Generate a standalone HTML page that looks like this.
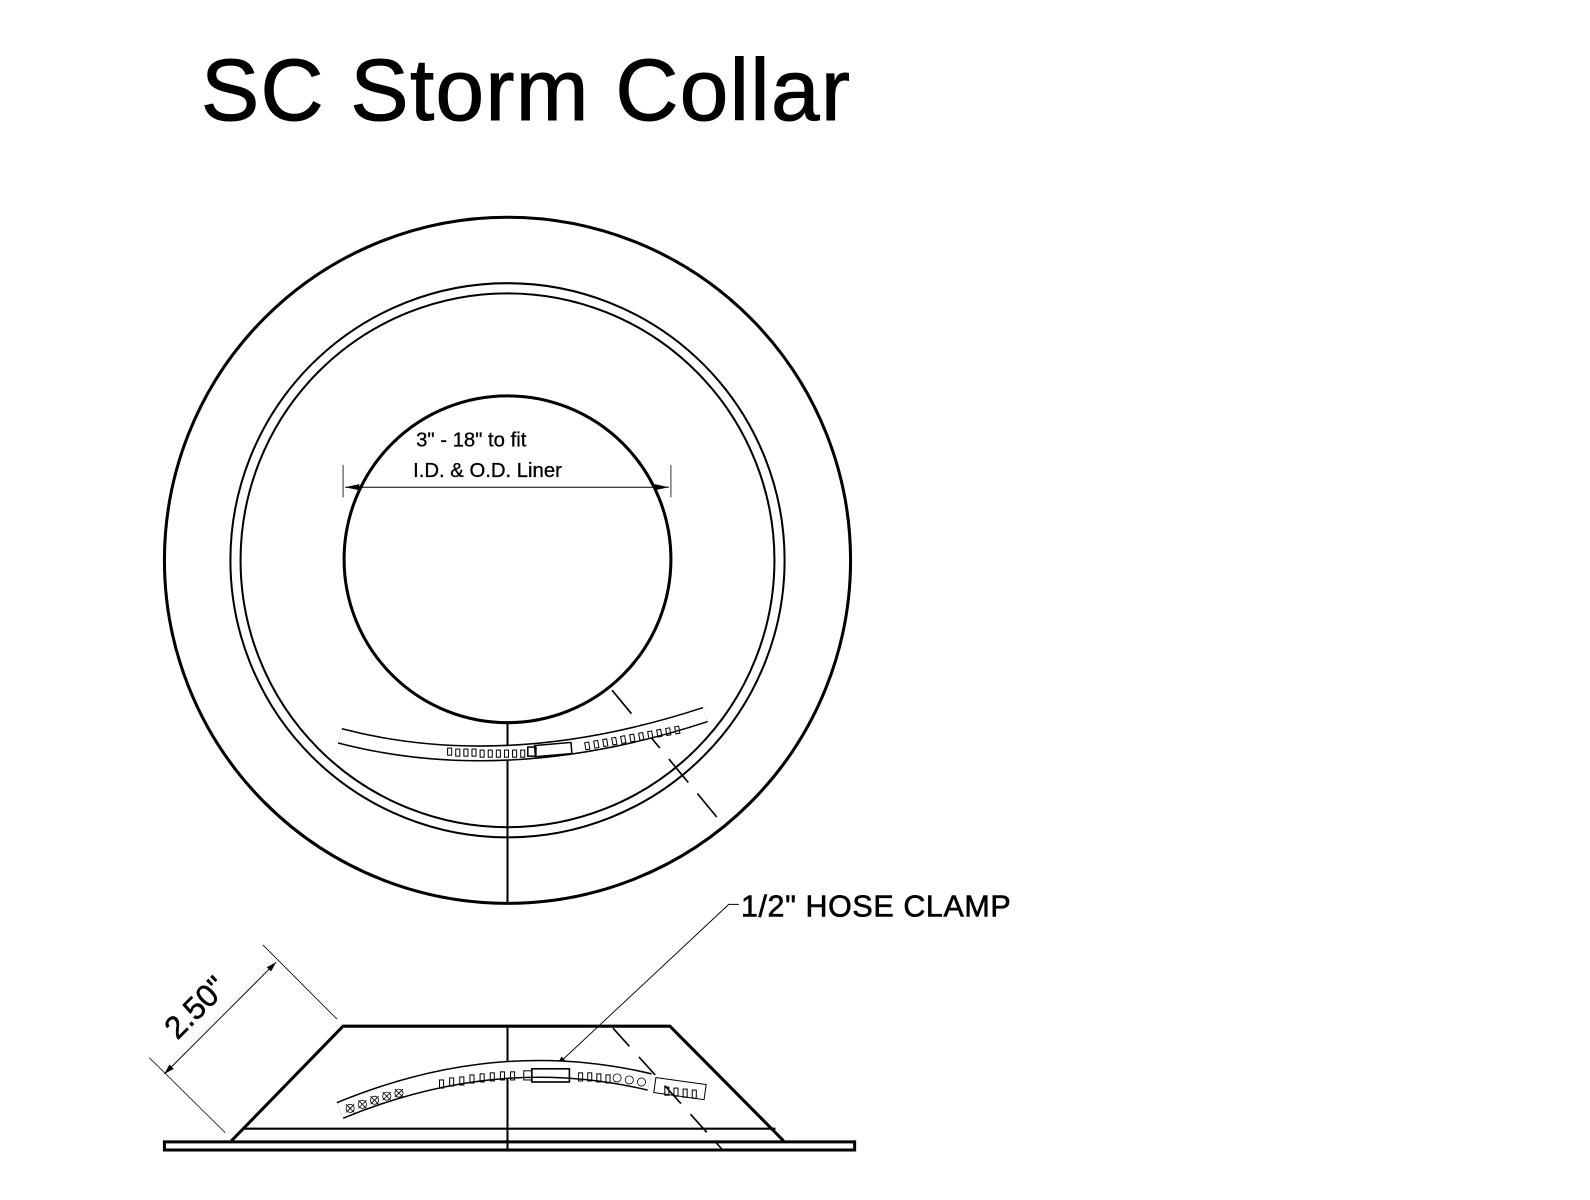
<!DOCTYPE html>
<html><head><meta charset="utf-8"><style>html,body{margin:0;padding:0;background:#fff}svg{display:block}</style></head>
<body>
<svg width="1590" height="1200" viewBox="0 0 1590 1200" xmlns="http://www.w3.org/2000/svg" font-family="Liberation Sans, Arial, sans-serif">
<defs>
<marker id="ar" viewBox="0 0 10 6" refX="10" refY="3" markerWidth="14" markerHeight="6" markerUnits="userSpaceOnUse" orient="auto"><path d="M0,0 L10,3 L0,6 z" fill="#000"/></marker>
</defs>
<g transform="scale(1.015)">
<text x="198" y="118" font-size="86" fill="#000" stroke="#000" stroke-width="1" letter-spacing="1.3">SC Storm Collar</text>

<!-- top view -->
<g fill="none" stroke="#000">
<circle cx="500" cy="552" r="338" stroke-width="3"/>
<circle cx="500" cy="552" r="273" stroke-width="2"/>
<circle cx="500" cy="552" r="263" stroke-width="2"/>
<circle cx="500" cy="551" r="161" stroke-width="3"/>
<line x1="500" y1="712" x2="500" y2="890" stroke-width="2"/>
<line x1="603" y1="680" x2="712" y2="812" stroke-width="1.6" stroke-dasharray="30,14"/>
<line x1="338" y1="458" x2="338" y2="490" stroke-width="0.8"/>
<line x1="661" y1="458" x2="661" y2="490" stroke-width="0.8"/>
<line x1="340" y1="480" x2="659" y2="480" stroke-width="1"/>
</g>
<path d="M340,480 l14,-3 v6 z M659,480 l-14,-3 v6 z" fill="#000"/>
<text x="410" y="440" font-size="20" stroke="#000" stroke-width="0.3">3" - 18" to fit</text>
<text x="407" y="470" font-size="20" stroke="#000" stroke-width="0.3">I.D. &amp; O.D. Liner</text>

<!-- top clamp -->
<path d="M335,725 Q500,768 695,704" fill="none" stroke="#000" stroke-width="16"/>
<path d="M335,725 Q500,768 695,704" fill="none" stroke="#fff" stroke-width="13"/>
<g fill="none" stroke="#000" stroke-width="1">
<rect x="527" y="733" width="36" height="11" transform="rotate(-5 545 738)" stroke-width="1.5"/>
<rect x="520" y="736" width="8" height="9" stroke-width="1.5"/>
<g><rect x="441" y="737" width="4" height="7"/><rect x="449" y="738" width="4" height="7"/><rect x="457" y="738" width="4" height="7"/><rect x="465" y="738" width="4" height="7"/><rect x="473" y="739" width="4" height="7"/><rect x="481" y="739" width="4" height="7"/><rect x="489" y="739" width="4" height="7"/><rect x="497" y="739" width="4" height="7"/><rect x="505" y="739" width="4" height="7"/><rect x="513" y="739" width="4" height="7"/></g>
<g transform="rotate(-10 620 722)"><rect x="575" y="724" width="4" height="7"/><rect x="584" y="724" width="4" height="7"/><rect x="593" y="724" width="4" height="7"/><rect x="602" y="724" width="4" height="7"/><rect x="611" y="724" width="4" height="7"/><rect x="620" y="724" width="4" height="7"/><rect x="629" y="724" width="4" height="7"/><rect x="638" y="724" width="4" height="7"/><rect x="647" y="724" width="4" height="7"/><rect x="656" y="724" width="4" height="7"/><rect x="665" y="724" width="4" height="7"/></g>
</g>

<!-- side view -->
<g fill="none" stroke="#000">
<rect x="162" y="1125" width="680" height="8" stroke-width="3"/>
<path d="M228,1124 L338,1011 L660,1011 L772,1124" stroke-width="3"/>
<line x1="240" y1="1112" x2="764" y2="1112" stroke-width="2"/>
<line x1="500" y1="1011" x2="500" y2="1133" stroke-width="2"/>
<line x1="604" y1="1013" x2="712" y2="1133" stroke-width="1.6" stroke-dasharray="24,14"/>
<line x1="332" y1="1004" x2="259" y2="931" stroke-width="0.8"/>
<line x1="222" y1="1116" x2="147" y2="1042" stroke-width="0.8"/>
<line x1="210" y1="1010" x2="272" y2="948" stroke-width="0.9" marker-end="url(#ar)"/>
<line x1="210" y1="1010" x2="162" y2="1058" stroke-width="0.9" marker-end="url(#ar)"/>
<polyline points="728,891 718,891 548,1050" stroke-width="0.9" marker-end="url(#ar)"/>
</g>
<text transform="translate(200,1000) rotate(-45)" text-anchor="middle" font-size="31" stroke="#000" stroke-width="0.5">2.50"</text>
<text x="730" y="903" font-size="30" stroke="#000" stroke-width="0.6" letter-spacing="0.6">1/2" HOSE CLAMP</text>

<!-- side clamp -->
<path d="M335,1094 Q490,1030 640,1066" fill="none" stroke="#000" stroke-width="18"/>
<path d="M335,1094 Q490,1030 640,1066" fill="none" stroke="#fff" stroke-width="15"/>
<g fill="none" stroke="#000" stroke-width="1">
<rect x="645" y="1065" width="50" height="15" transform="rotate(8 670 1072)"/>
<rect x="524" y="1053" width="37" height="13" stroke-width="1.6"/>
<rect x="516" y="1055" width="8" height="9"/>
<g><rect x="433" y="1064" width="4" height="8"/><rect x="443" y="1062" width="4" height="8"/><rect x="453" y="1061" width="4" height="8"/><rect x="463" y="1059" width="4" height="8"/><rect x="473" y="1058" width="4" height="8"/><rect x="483" y="1057" width="4" height="8"/><rect x="493" y="1056" width="4" height="8"/><rect x="503" y="1056" width="4" height="8"/></g>
<g><rect x="570" y="1057" width="4" height="8"/><rect x="579" y="1057" width="4" height="8"/><rect x="588" y="1058" width="4" height="8"/><rect x="597" y="1059" width="4" height="8"/></g>
<g><rect x="655" y="1071" width="4" height="8"/><rect x="664" y="1072" width="4" height="8"/><rect x="673" y="1073" width="4" height="8"/><rect x="682" y="1074" width="4" height="8"/></g>
</g>
<g fill="none" stroke="#000" stroke-width="0.8">
<circle cx="345" cy="1092" r="4"/><circle cx="357" cy="1088" r="4"/><circle cx="369" cy="1084" r="4"/><circle cx="381" cy="1080" r="4"/><circle cx="393" cy="1077" r="4"/>
<circle cx="608" cy="1062" r="4"/><circle cx="620" cy="1064" r="4"/><circle cx="632" cy="1066" r="4"/>
<path d="M341,1088 l8,8 M349,1088 l-8,8 M353,1084 l8,8 M361,1084 l-8,8 M365,1080 l8,8 M373,1080 l-8,8 M377,1076 l8,8 M385,1076 l-8,8 M389,1073 l8,8 M397,1073 l-8,8"/>
</g>
</g>
</svg>
</body></html>
